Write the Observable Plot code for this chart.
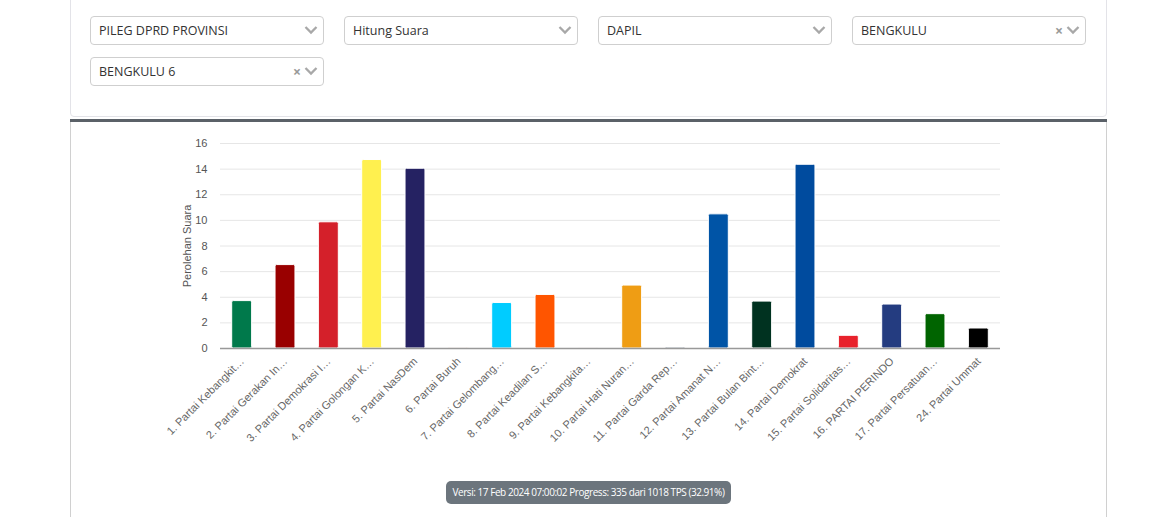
<!DOCTYPE html>
<html>
<head>
<meta charset="utf-8">
<script src="https://cdn.jsdelivr.net/npm/d3@7"></script>
<script src="https://cdn.jsdelivr.net/npm/@observablehq/plot@0.6"></script>
<style>
  html, body { margin: 0; padding: 0; background: #fff; width: 1161px; height: 517px; overflow: hidden; }
  body { position: relative; font-family: "Open Sans", "Noto Sans", sans-serif; }
  .card { position: absolute; left: 70px; top: -5px; width: 1037px; height: 122px; border: 1px solid #e3e3e8; border-radius: 0 0 4px 4px; box-sizing: border-box; }
  .bar { position: absolute; left: 70px; top: 119px; width: 1037px; height: 3px; background: #5b6168; }
  .panel { position: absolute; left: 70px; top: 122px; width: 1037px; height: 400px; border-left: 1px solid #d0d0d0; border-right: 1px solid #d0d0d0; box-sizing: border-box; }
  .sel { position: absolute; height: 29px; width: 234px; border: 1px solid #cfcfcf; border-radius: 4px; box-sizing: border-box; font-size: 12.5px; color: #333; line-height: 27px; padding-left: 8px; background: #fff; }
  .sel svg.chev { position: absolute; right: 5px; top: 8px; }
  .sel .x { position: absolute; right: 22px; top: 0; color: #999; font-weight: bold; font-size: 14px; }
  #chart { position: absolute; left: 71px; top: 122px; }
  .badge { position: absolute; left: 446px; top: 481px; width: 285px; height: 23px; background: #6c757d; color: #fff; border-radius: 5px; font-size: 10px; line-height: 23px; text-align: center; white-space: nowrap; letter-spacing: -0.45px; }
</style>
</head>
<body>
<div class="card"></div>
<div class="bar"></div>
<div class="panel"></div>
<div id="selects"></div>
<div id="chart"></div>
<div class="badge">Versi: 17 Feb 2024 07:00:02 Progress: 335 dari 1018 TPS (32.91%)</div>
<script>
const parties = [
  "1. Partai Kebangkit…",
  "2. Partai Gerakan In…",
  "3. Partai Demokrasi I…",
  "4. Partai Golongan K…",
  "5. Partai NasDem",
  "6. Partai Buruh",
  "7. Partai Gelombang…",
  "8. Partai Keadilan S…",
  "9. Partai Kebangkita…",
  "10. Partai Hati Nuran…",
  "11. Partai Garda Rep…",
  "12. Partai Amanat N…",
  "13. Partai Bulan Bint…",
  "14. Partai Demokrat",
  "15. Partai Solidaritas…",
  "16. PARTAI PERINDO",
  "17. Partai Persatuan…",
  "24. Partai Ummat"
];
const votes = [3.70, 6.51, 9.85, 14.71, 14.03, 0.05, 3.55, 4.18, 0.02, 4.91, 0.08, 10.47, 3.66, 14.34, 0.99, 3.43, 2.68, 1.56];
const partyColors = ["#00794b", "#990000", "#d4202a", "#fff04f", "#252262", "#f5a878", "#00ccff", "#ff5500", "#f2b8b8", "#ef9d14", "#6e7b8b", "#0054a6", "#003220", "#004b9e", "#e8222c", "#243c80", "#006400", "#000000"];
const yTicks = [0, 2, 4, 6, 8, 10, 12, 14, 16];
const yTitle = "Perolehan Suara";

const selectRows = [
  {label: "PILEG DPRD PROVINSI", clear: false},
  {label: "Hitung Suara", clear: false},
  {label: "DAPIL", clear: false},
  {label: "BENGKULU", clear: true},
  {label: "BENGKULU 6", clear: true}
];
const selPos = [[90, 16], [344, 16], [598, 16], [852, 16], [90, 57]];
const selHost = document.getElementById("selects");
selectRows.forEach((s, i) => {
  const d = document.createElement("div");
  d.className = "sel";
  d.style.left = selPos[i][0] + "px";
  d.style.top = selPos[i][1] + "px";
  d.innerHTML = s.label +
    (s.clear ? '<span class="x">×</span>' : '') +
    '<svg class="chev" width="14" height="10"><polyline points="1.5,2 7,7.5 12.5,2" fill="none" stroke="#a8a8a8" stroke-width="2.3"/></svg>';
  selHost.appendChild(d);
});

const data = parties.map((p, i) => ({party: p, value: votes[i]}));

const chart = Plot.plot({
  width: 1035,
  height: 340,
  marginLeft: 149,
  marginRight: 106,
  marginTop: 21,
  marginBottom: 114,
  style: {fontFamily: "'Liberation Sans', Arial, sans-serif", fontSize: "11px", color: "#666", background: "transparent"},
  x: {domain: parties, paddingInner: 0.54, paddingOuter: 0.27, round: false, label: null},
  y: {domain: [0, 16], label: null},
  color: {domain: parties, range: partyColors},
  marks: [
    Plot.gridY(yTicks, {stroke: "#e6e6e6", strokeOpacity: 1, strokeWidth: 1}),
    Plot.barY(data, {x: "party", y: "value", fill: "party", stroke: "#fff", strokeWidth: 1, rx: 1.5}),
    Plot.ruleY([0], {stroke: "#999", strokeWidth: 1.5}),
    Plot.axisY(yTicks, {tickSize: 0, tickPadding: 13, fontSize: 11, fill: "#555", label: yTitle, labelArrow: "none", labelAnchor: "center", labelOffset: 37}),
    Plot.axisX({tickSize: 0, tickPadding: 11, tickRotate: -45, fontSize: 11, fill: "#666", label: null})
  ]
});
document.getElementById("chart").appendChild(chart);
</script>
</body>
</html>
